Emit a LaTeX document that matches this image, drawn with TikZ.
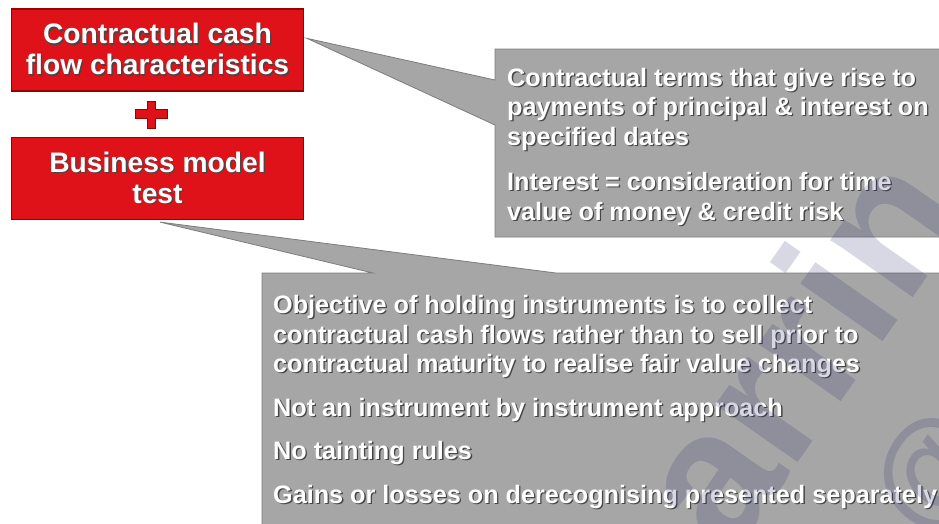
\documentclass[tikz,border=0pt]{standalone}
\usepackage{fontspec}
\setmainfont{Liberation Sans}
\usetikzlibrary{calc}

\definecolor{boxred}{RGB}{222,18,24}
\definecolor{boxredline}{RGB}{150,0,0}
\definecolor{calloutgrey}{RGB}{166,166,166}
\definecolor{calloutline}{RGB}{125,125,125}
\definecolor{txtshadow}{RGB}{70,70,70}
\definecolor{markink}{RGB}{40,40,110}

% white lettering with a soft dark drop shadow
\newcommand\shd[1]{\leavevmode\rlap{\kern1.3pt\raisebox{-1.3pt}{\textcolor{txtshadow}{#1}}}#1}

\begin{document}
\begin{tikzpicture}[x=1pt,y=-1pt,
  redbox/.style={fill=boxred, draw=boxredline, line width=1.2pt,
    minimum width=292pt, minimum height=82pt, inner sep=0pt,
    text=white, align=center, font=\bfseries\fontsize{28.2}{31}\selectfont},
  callout/.style={fill=calloutgrey, draw=calloutline, line width=0.8pt, line join=miter},
  callouttext/.style={text=white, align=left, inner sep=0pt, anchor=base west,
    font=\bfseries\fontsize{25.2}{29.5}\selectfont},
  plusmark/.style={fill=boxred, draw=boxredline, line width=1pt},
  watermark/.style={text=markink, text opacity=0.18, inner sep=0pt,
    font=\bfseries\fontsize{190}{190}\selectfont}
]
\useasboundingbox (0,0) rectangle (939,523);
\fill[white] (0,0) rectangle (939,523);

% the two tests
\node[redbox] (cf) at (157.5,50) {\shd{Contractual cash}\\\shd{flow characteristics}};
\node[redbox] (bm) at (157.5,178.5) {\shd{Business model}\\\shd{test}};

% plus sign between the tests
\coordinate (pl) at ($(cf.south)!0.5!(bm.north)+(-6.5,0)$);
\path[plusmark] ($(pl)+(-4,-13)$) -- ++(8,0) -- ++(0,8) -- ++(12,0) -- ++(0,9)
  -- ++(-12,0) -- ++(0,10) -- ++(-8,0) -- ++(0,-10) -- ++(-12,0) -- ++(0,-9)
  -- ++(12,0) -- cycle;

% callout tips next to the red boxes
\coordinate (tipA) at ($(cf.north east)+(3,30)$);
\coordinate (tipB) at ($(bm.south)+(2.5,2)$);

% callout for the cash flow test (text anchored on its last baseline)
\path[callout] (tipA) -- (495,80) -- (495,49) -- (946,49) -- (946,237)
  -- (495,237) -- (495,125) -- cycle;
\node[callouttext] (cfnotes) at (507,220)
  {\shd{Contractual terms that give rise to}\\
   \shd{payments of principal \& interest on}\\
   \shd{specified dates}\\[16pt]
   \shd{Interest = consideration for time}\\
   \shd{value of money \& credit risk}};

% callout for the business model test
\path[callout] (tipB) -- (556,273) -- (946,273) -- (946,530) -- (262,530)
  -- (262,273) -- (373,273) -- cycle;
\node[callouttext] (bmnotes) at (273,503)
  {\shd{Objective of holding instruments is to collect}\\
   \shd{contractual cash flows rather than to sell prior to}\\
   \shd{contractual maturity to realise fair value changes}\\[14pt]
   \shd{Not an instrument by instrument approach}\\[14pt]
   \shd{No tainting rules}\\[14pt]
   \shd{Gains or losses on derecognising presented separately}};

% faint diagonal watermark lettering
\node[watermark, rotate=55, anchor=base west] (wm) at (730,560) {arrin};
\node[watermark, rotate=55, font=\bfseries\fontsize{120}{120}\selectfont] (wmat) at (935,475) {@};
\end{tikzpicture}
\end{document}
